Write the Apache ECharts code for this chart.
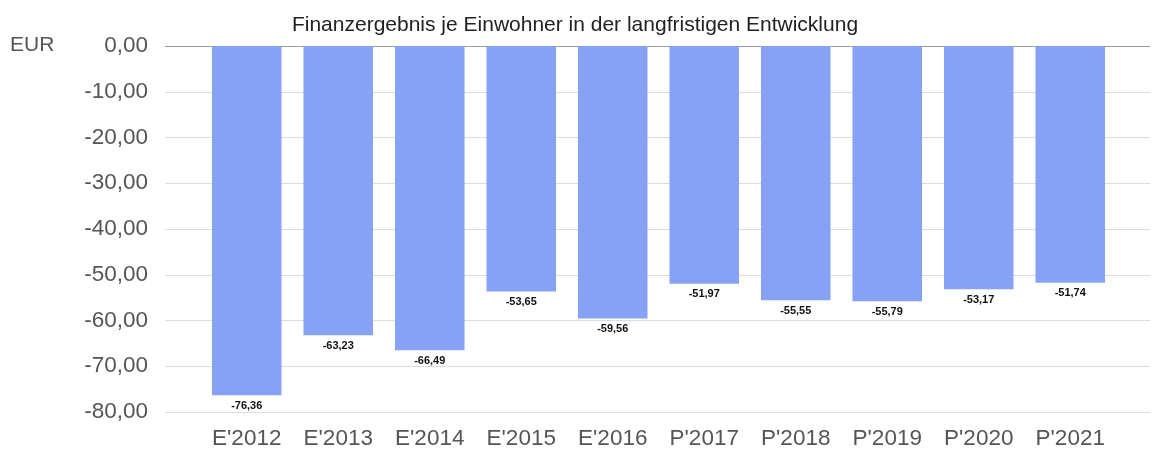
<!DOCTYPE html>
<html>
<head>
<meta charset="utf-8">
<script src="https://cdn.jsdelivr.net/npm/echarts@6/dist/echarts.min.js"></script>
<style>
  html, body { margin: 0; padding: 0; background: #fff; }
  #chart { width: 1152px; height: 450px; }
</style>
</head>
<body>
<div id="chart"></div>
<script>
// Jahre (E = Ergebnis, P = Plan)
const categories = ["E'2012", "E'2013", "E'2014", "E'2015", "E'2016", "P'2017", "P'2018", "P'2019", "P'2020", "P'2021"];
const values = [-76.36, -63.23, -66.49, -53.65, -59.56, -51.97, -55.55, -55.79, -53.17, -51.74];
const yTicks = [-80, -70, -60, -50, -40, -30, -20, -10, 0];

const fmt = v => v.toFixed(2).replace('.', ',');

const chart = echarts.init(document.getElementById('chart'));

// gridlines: last one (0,00) darker
const splitColors = yTicks.map(t => (t === 0 ? '#9a9a9a' : '#dcdcdc'));

chart.setOption({
  animation: false,
  title: {
    text: 'Finanzergebnis je Einwohner in der langfristigen Entwicklung',
    left: 570,
    textAlign: 'center',
    top: 10,
    textStyle: { fontFamily: 'Liberation Sans', fontSize: 21, fontWeight: 'normal', color: '#222' }
  },
  graphic: [{
    type: 'text',
    left: 10,
    top: 35,
    style: { text: 'EUR', font: '21px "Liberation Sans"', fill: '#555' }
  }],
  grid: [
    { left: 165, right: 2, top: 46, bottom: 38 },
    { left: 201, right: 36, top: 46, bottom: 38 }
  ],
  xAxis: [
    { gridIndex: 0, type: 'category', data: categories, show: false },
    {
      gridIndex: 1,
      type: 'category',
      data: categories,
      position: 'bottom',
      axisLine: { show: false, onZero: false },
      axisTick: { show: false },
      axisLabel: { fontFamily: 'Liberation Sans', fontSize: 22.5, color: '#555', margin: 15 }
    }
  ],
  yAxis: [
    {
      gridIndex: 0,
      type: 'value',
      min: -80,
      max: 0,
      interval: 10,
      axisLine: { show: false },
      axisTick: { show: false },
      axisLabel: { fontFamily: 'Liberation Sans', fontSize: 22.5, color: '#555', margin: 17, formatter: v => fmt(v) },
      splitLine: { lineStyle: { color: splitColors, width: 1 } }
    },
    {
      gridIndex: 1,
      type: 'value',
      min: -80,
      max: 0,
      interval: 10,
      show: false
    }
  ],
  series: [{
    type: 'bar',
    xAxisIndex: 1,
    yAxisIndex: 1,
    data: values,
    barCategoryGap: '24%',
    itemStyle: { color: '#87a2f5' },
    label: {
      show: true,
      position: 'bottom',
      distance: 5,
      fontFamily: 'Liberation Sans',
      fontSize: 11,
      fontWeight: 'bold',
      color: '#111',
      formatter: p => fmt(p.value)
    }
  }]
});
</script>
</body>
</html>
